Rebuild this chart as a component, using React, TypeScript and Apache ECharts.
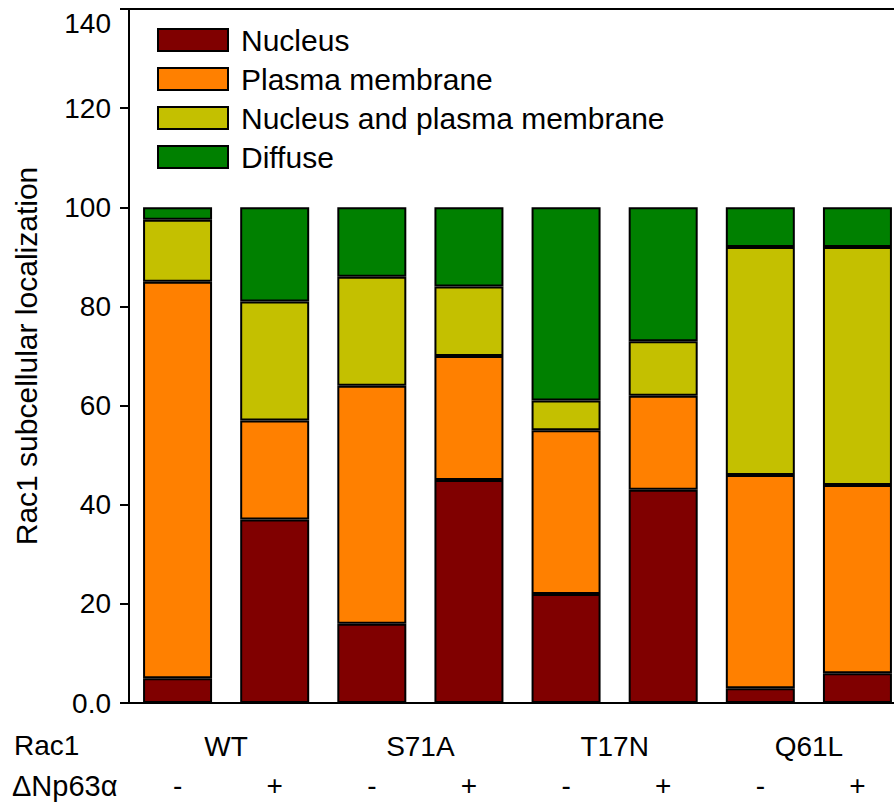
import React, { useEffect, useRef } from "react";
import * as echarts from "echarts";

const genotypes = ["WT", "S71A", "T17N", "Q61L"];
const treatments = ["-", "+"];
const seriesNames = ["Nucleus", "Plasma membrane", "Nucleus and plasma membrane", "Diffuse"];
const nucleus = [5, 37, 16, 45, 22, 43, 3, 6];
const plasmaMembrane = [80, 20, 48, 25, 33, 19, 43, 38];
const nucleusAndPM = [12.5, 24, 22, 14, 6, 11, 46, 48];
const diffuse = [2.5, 19, 14, 16, 39, 27, 8, 8];
const yTicks = [0, 20, 40, 60, 80, 100, 120, 140];
const colors = ["#800000", "#ff8000", "#c4c000", "#008000"];

const FONT = "'Liberation Sans', Arial, sans-serif";

export default function App() {
  const ref = useRef<HTMLDivElement>(null);
  useEffect(() => {
    if (!ref.current) return;
    const chart = echarts.init(ref.current, null, { renderer: "svg" });
    const categories: string[] = [];
    genotypes.forEach((g) => treatments.forEach((t) => categories.push(g + " " + t)));
    const values = [nucleus, plasmaMembrane, nucleusAndPM, diffuse];
    chart.setOption({
      animation: false,
      backgroundColor: "#ffffff",
      textStyle: { fontFamily: FONT },
      grid: {
        left: 129,
        top: 9,
        width: 777,
        height: 694,
        outerBoundsMode: "none",
        show: true,
        borderColor: "#000",
        borderWidth: 2,
      },
      legend: {
        orient: "vertical",
        left: 157,
        top: 25,
        padding: 0,
        itemWidth: 70,
        itemHeight: 22,
        itemGap: 9,
        icon: "rect",
        data: seriesNames,
        textStyle: {
          fontSize: 30,
          color: "#000",
          fontFamily: FONT,
          lineHeight: 30,
          padding: [0, 0, 0, 8],
        },
        itemStyle: { borderColor: "#000", borderWidth: 2 },
      },
      xAxis: [
        {
          type: "category",
          data: categories,
          position: "bottom",
          axisLine: { lineStyle: { color: "#000", width: 2 } },
          axisTick: { alignWithLabel: true, length: 10, lineStyle: { color: "#000", width: 2 } },
          axisLabel: {
            formatter: (v: string) => v.split(" ")[1],
            margin: 68,
            fontSize: 28,
            color: "#000",
            fontFamily: FONT,
          },
        },
        {
          type: "category",
          data: genotypes,
          position: "bottom",
          axisLine: { show: false },
          axisTick: { show: false },
          axisLabel: { margin: 29, fontSize: 28, color: "#000", fontFamily: FONT },
        },
      ],
      yAxis: {
        type: "value",
        min: 0,
        max: 140,
        interval: 20,
        splitLine: { show: false },
        axisLine: { show: true, lineStyle: { color: "#000", width: 2 } },
        axisTick: { show: true, length: 9, lineStyle: { color: "#000", width: 2 } },
        axisLabel: {
          margin: 18,
          fontSize: 28,
          color: "#000",
          fontFamily: FONT,
          verticalAlignMaxLabel: "top",
          formatter: (v: number) => (yTicks.indexOf(v) === 0 ? "0.0" : String(v)),
        },
        name: "Rac1 subcellular localization",
        nameLocation: "middle",
        nameGap: 88,
        nameTextStyle: { fontSize: 30, color: "#000", fontFamily: FONT },
      },
      series: seriesNames.map((name, i) => ({
        name,
        type: "bar",
        stack: "total",
        barWidth: 69,
        xAxisIndex: 0,
        data: values[i],
        itemStyle: { color: colors[i], borderColor: "#000", borderWidth: 2 },
      })),
      graphic: [
        {
          type: "text",
          left: 14,
          top: 731,
          style: { text: "Rac1", fontSize: 28, fill: "#000", fontFamily: FONT },
        },
        {
          type: "text",
          left: 12,
          top: 771,
          style: { text: "\u0394Np63\u03b1", fontSize: 29, fill: "#000", fontFamily: FONT },
        },
      ],
    });
    return () => chart.dispose();
  }, []);
  return <div ref={ref} style={{ width: 894, height: 802, position: "absolute", left: 0, top: 0 }} />;
}
